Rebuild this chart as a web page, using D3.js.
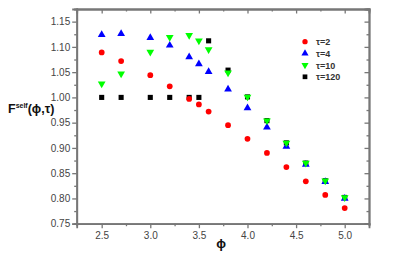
<!DOCTYPE html>
<html>
<head>
<meta charset="utf-8">
<script src="https://cdn.jsdelivr.net/npm/d3@7"></script>
<style>
  body { margin: 0; background: #fff; }
  svg { display: block; font-family: "Liberation Sans", Arial, sans-serif; }
</style>
</head>
<body>
<svg id="chart" width="395" height="257"></svg>
<script>
// phi values (x)
var phi = [2.5, 2.7, 3.0, 3.2, 3.4, 3.5, 3.6, 3.8, 4.0, 4.2, 4.4, 4.6, 4.8, 5.0];

// F_self for each tau
var tau2   = [1.089, 1.072, 1.044, 1.022, 0.997, 0.986, 0.972, 0.945, 0.918, 0.890, 0.862, 0.834, 0.807, 0.781];
var tau4   = [1.124, 1.126, 1.118, 1.103, 1.080, 1.066, 1.051, 1.016, 0.979, 0.941, 0.903, 0.867, 0.833, 0.800];
var tau10  = [1.027, 1.047, 1.090, 1.119, 1.123, 1.112, 1.095, 1.049, 1.001, 0.954, 0.910, 0.870, 0.835, 0.802];
var tau120 = [1.000, 1.000, 1.000, 1.000, 1.000, 1.000, 1.112, 1.054, 1.001, 0.954, 0.910, 0.870, 0.835, 0.802];

var seriesNames = ["\u03c4=2", "\u03c4=4", "\u03c4=10", "\u03c4=120"];

var xTicks = [2.5, 3.0, 3.5, 4.0, 4.5, 5.0];
var yTicks = [0.75, 0.80, 0.85, 0.90, 0.95, 1.00, 1.05, 1.10, 1.15];

var svg = d3.select("#chart");
var margin = {top: 9, left: 76.7, right: 26, bottom: 33.3};
var width = +svg.attr("width"), height = +svg.attr("height");

var x = d3.scaleLinear()
	.domain([2.243, 5.25])
	.range([margin.left, width - margin.right]);

var y = d3.scaleLinear()
	.domain([0.75, 1.175])
	.range([height - margin.bottom, margin.top]);

var axisColor = "#777";
var labelColor = "#444";

// minor ticks
var xMinor = xTicks.map(d => d + 0.25);
var yMinor = yTicks.map(d => d + 0.025).filter(d => d < 1.175);

function styleAxis(g) {
	g.select(".domain").attr("stroke", axisColor).attr("stroke-width", 1.8);
	g.selectAll(".tick line").attr("stroke", axisColor).attr("stroke-width", 1.3);
	g.selectAll(".tick text").attr("fill", labelColor).style("font-size", "10px");
}

// minor axes first
svg.append("g")
	.attr("transform", `translate(0,${y(0.75)})`)
	.call(d3.axisBottom(x).tickValues(xMinor).tickSize(2.5).tickFormat(""))
	.call(styleAxis);
svg.append("g")
	.attr("transform", `translate(${x.range()[0]},0)`)
	.call(d3.axisLeft(y).tickValues(yMinor).tickSize(2.5).tickFormat(""))
	.call(styleAxis);
svg.append("g")
	.attr("transform", `translate(0,${y(1.175)})`)
	.call(d3.axisTop(x).tickValues(xMinor).tickSize(-2.5).tickFormat(""))
	.call(styleAxis);
svg.append("g")
	.attr("transform", `translate(${x.range()[1]},0)`)
	.call(d3.axisRight(y).tickValues(yMinor).tickSize(-2.5).tickFormat(""))
	.call(styleAxis);

// major axes
svg.append("g")
	.attr("transform", `translate(0,${y(0.75)})`)
	.call(d3.axisBottom(x).tickValues(xTicks).tickSize(4.5).tickPadding(4).tickFormat(d3.format(".1f")))
	.call(styleAxis);
svg.append("g")
	.attr("transform", `translate(${x.range()[0]},0)`)
	.call(d3.axisLeft(y).tickValues(yTicks).tickSize(4.5).tickPadding(2).tickFormat(d3.format(".2f")))
	.call(styleAxis);
svg.append("g")
	.attr("transform", `translate(0,${y(1.175)})`)
	.call(d3.axisTop(x).tickValues(xTicks).tickSize(-4.5).tickFormat(""))
	.call(styleAxis);
svg.append("g")
	.attr("transform", `translate(${x.range()[1]},0)`)
	.call(d3.axisRight(y).tickValues(yTicks).tickSize(-4.5).tickFormat(""))
	.call(styleAxis);

// data series; black drawn first so the others sit on top
var series = [
	{name: seriesNames[3], values: tau120, color: "#000000", shape: d3.symbolSquare, size: 26, rot: 0},
	{name: seriesNames[0], values: tau2,   color: "#ff0000", shape: d3.symbolCircle, size: 26, rot: 0},
	{name: seriesNames[1], values: tau4,   color: "#0000ff", shape: d3.symbolTriangle, size: 26, rot: 0},
	{name: seriesNames[2], values: tau10,  color: "#00ff00", shape: d3.symbolTriangle, size: 26, rot: 180}
];

series.forEach(function(s) {
	var sym = d3.symbol().type(s.shape).size(s.size);
	svg.append("g").selectAll("path")
		.data(phi.map((p, i) => ({p: p, v: s.values[i]})))
		.enter().append("path")
		.attr("d", sym)
		.attr("fill", s.color)
		.attr("transform", d => `translate(${x(d.p)},${y(d.v)}) rotate(${s.rot})`);
});

// legend
var legendOrder = [series[1], series[2], series[3], series[0]];
var legend = svg.append("g").attr("transform", "translate(305,41.7)");
legendOrder.forEach(function(s, i) {
	var g = legend.append("g").attr("transform", `translate(0,${i * 11.7})`);
	g.append("path")
		.attr("d", d3.symbol().type(s.shape).size(s.size * 0.85))
		.attr("fill", s.color)
		.attr("transform", `rotate(${s.rot})`);
	g.append("text")
		.attr("x", 11)
		.attr("y", 3.5)
		.attr("fill", "#333")
		.style("font-size", "9px")
		.style("font-weight", "bold")
		.text(s.name);
});

// axis titles
var yl = svg.append("text")
	.attr("x", 8)
	.attr("y", 113)
	.attr("fill", "#111")
	.style("font-size", "12.5px")
	.style("font-weight", "bold");
yl.append("tspan").text("F");
yl.append("tspan").attr("dy", -5).style("font-size", "7px").text("self");
yl.append("tspan").attr("dy", 5).text("(\u03d5,\u03c4)");

svg.append("text")
	.attr("x", 221)
	.attr("y", 248)
	.attr("text-anchor", "middle")
	.attr("fill", "#111")
	.style("font-size", "13px")
	.style("font-weight", "bold")
	.text("\u03d5");
</script>
</body>
</html>
